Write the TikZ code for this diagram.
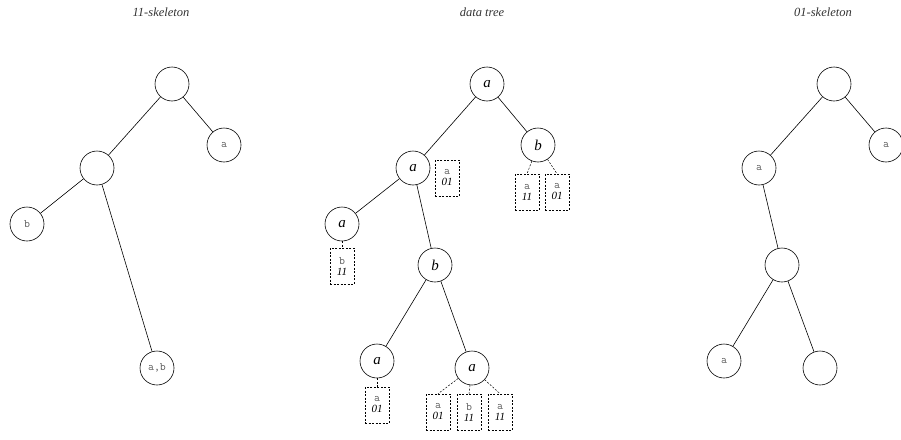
\documentclass[tikz,border=0pt]{standalone}
\usepackage{fontspec}
\setmainfont{Liberation Serif}
\begin{document}
\begin{tikzpicture}[x=1pt,y=-1pt,
  circ/.style={circle,draw,line width=0.6pt,minimum size=34pt,inner sep=0pt},
  lab/.style={font=\fontsize{11.5}{11.5}\selectfont\ttfamily,text=black!65},
  dlab/.style={font=\fontsize{15}{15}\selectfont\itshape},
  dbox/.style={draw,dashed,dash pattern=on 2pt off 1.5pt,line width=0.5pt,minimum width=24pt,minimum height=36pt,inner sep=0pt,align=center},
  edge/.style={line width=0.6pt},
  dedge/.style={line width=0.5pt,dashed,dash pattern=on 2pt off 1.5pt},
  ttl/.style={font=\fontsize{12.5}{12.5}\selectfont\itshape,text=black!80}]
\useasboundingbox (0,0) rectangle (901,439);
\newcommand{\bx}[2]{{\fontsize{11.5}{13}\selectfont\ttfamily\color{black!65}#1}\\[-1pt]{\fontsize{11}{12}\selectfont\itshape #2}}
% titles
\node[ttl] (t1) at (161,12) {11-skeleton};
\node[ttl] (t2) at (482,12) {data tree};
\node[ttl] (t3) at (823,12) {01-skeleton};
% 11-skeleton
\node[circ] (l0) at (172,84) {};
\node[circ,lab] (l1) at (224,145) {a};
\node[circ] (l2) at (97,168) {};
\node[circ,lab] (l3) at (27,224) {b};
\node[circ,lab] (l4) at (157,368) {a,b};
\draw[edge] (l0) -- (l1);
\draw[edge] (l0) -- (l2);
\draw[edge] (l2) -- (l3);
\draw[edge] (l2) -- (l4);
% data tree
\node[circ,dlab] (d0) at (487,84) {a};
\node[circ,dlab] (d1) at (538,145) {b};
\node[circ,dlab] (d2) at (413,168) {a};
\node[circ,dlab] (d3) at (342,224) {a};
\node[circ,dlab] (d4) at (435,265) {b};
\node[circ,dlab] (d5) at (377,361) {a};
\node[circ,dlab] (d6) at (472,368) {a};
\draw[edge] (d0) -- (d1);
\draw[edge] (d0) -- (d2);
\draw[edge] (d2) -- (d3);
\draw[edge] (d2) -- (d4);
\draw[edge] (d4) -- (d5);
\draw[edge] (d4) -- (d6);
\node[dbox] (b0) at (447,178) {\bx{a}{01}};
\node[dbox] (b1) at (527,192) {\bx{a}{11}};
\node[dbox] (b2) at (557,192) {\bx{a}{01}};
\node[dbox] (b3) at (342,266) {\bx{b}{11}};
\node[dbox] (b4) at (377,405) {\bx{a}{01}};
\node[dbox] (b5) at (438,412) {\bx{a}{01}};
\node[dbox] (b6) at (469,412) {\bx{b}{11}};
\node[dbox] (b7) at (500,412) {\bx{a}{11}};
\draw[dedge] (d1) -- (b1.north);
\draw[dedge] (d1) -- (b2.north);
\draw[dedge] (d3) -- (b3.north);
\draw[dedge] (d5) -- (b4.north);
\draw[dedge] (d6) -- (b5.north);
\draw[dedge] (d6) -- (b6.north);
\draw[dedge] (d6) -- (b7.north);
% 01-skeleton
\node[circ] (r0) at (834,84) {};
\node[circ,lab] (r1) at (886,145) {a};
\node[circ,lab] (r2) at (759,168) {a};
\node[circ] (r3) at (782,265) {};
\node[circ,lab] (r4) at (724,361) {a};
\node[circ] (r5) at (820,368) {};
\draw[edge] (r0) -- (r1);
\draw[edge] (r0) -- (r2);
\draw[edge] (r2) -- (r3);
\draw[edge] (r3) -- (r4);
\draw[edge] (r3) -- (r5);
\end{tikzpicture}
\end{document}
